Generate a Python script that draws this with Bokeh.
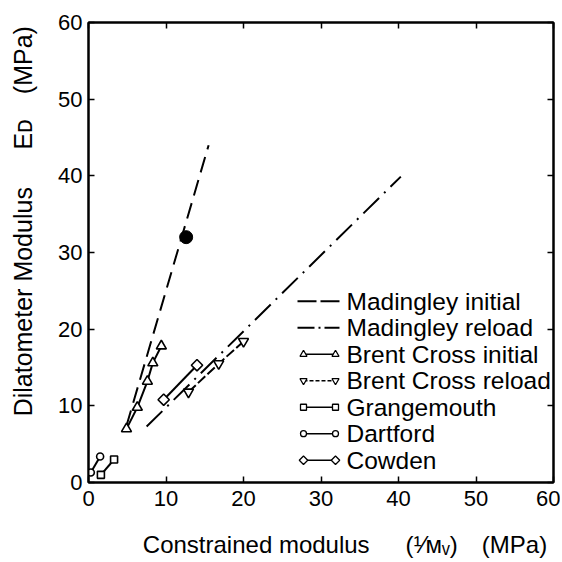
import math
from bokeh.plotting import figure
from bokeh.models import Range1d, LinearAxis, FixedTicker
from bokeh.embed import file_html
from bokeh.resources import INLINE
from bokeh.core.properties import value

# ---------------- data ----------------
mad_init_x = [4.9, 15.5]
mad_init_y = [7.4, 44.0]
mad_init_pt_x = [12.6]
mad_init_pt_y = [32.0]
mad_rel_x = [7.5, 40.3]
mad_rel_y = [7.3, 39.9]
bc_init_x = [4.9, 6.3, 7.6, 8.3, 9.4]
bc_init_y = [7.0, 9.8, 13.2, 15.6, 17.8]
bc_rel_x = [12.9, 16.8, 20.0]
bc_rel_y = [11.8, 15.5, 18.4]
gra_x = [1.6, 3.3]
gra_y = [1.0, 3.0]
dar_x = [0.3, 1.5]
dar_y = [1.3, 3.4]
cow_x = [9.7, 14.0]
cow_y = [10.8, 15.3]
x_ticks = [0, 10, 20, 30, 40, 50, 60]
y_ticks = [0, 10, 20, 30, 40, 50, 60]
legend_labels = ["Madingley initial", "Madingley reload", "Brent Cross initial",
                 "Brent Cross reload", "Grangemouth", "Dartford", "Cowden"]
EM, EN = "\u2003", "\u2002"
x_title = EM + EM + "Constrained modulus" + EM + EN + "(\u00b9\u2044\u1d0d\u1d65)" + EM + "(MPa)"
y_title = EM + EM + EN + "Dilatometer Modulus" + EM + EN + "E\u1d05" + EM + "(MPa)"

FONT = "Liberation Sans"

# frame geometry in picture pixels, used only to place the hand-made legend
F_L, F_R, F_T, F_B = 88, 553, 22, 484
def X(px):
    return (px - F_L) / (F_R - F_L) * 60.0
def Y(py):
    return (F_B - py) / (F_B - F_T) * 60.0

p = figure(width=560, height=560, x_range=Range1d(0, 60), y_range=Range1d(0, 60),
           output_backend="svg", toolbar_location=None,
           min_border_left=88, min_border_right=7, min_border_top=22, min_border_bottom=76)
p.xgrid.visible = False
p.ygrid.visible = False
p.outline_line_color = "black"
p.outline_line_width = 2
p.background_fill_color = "white"
p.border_fill_color = "white"

for ax in (p.xaxis[0], p.yaxis[0]):
    ax.major_tick_in = 6
    ax.major_tick_out = 0
    ax.minor_tick_line_color = None
    ax.axis_line_width = 2
    ax.major_tick_line_width = 1.5
    ax.major_label_text_font = FONT
    ax.major_label_text_font_size = "22px"
    ax.major_label_text_color = "black"
    ax.axis_label_text_font = FONT
    ax.axis_label_text_font_style = "normal"
    ax.axis_label_text_color = "black"
p.xaxis[0].ticker = FixedTicker(ticks=x_ticks)
p.yaxis[0].ticker = FixedTicker(ticks=y_ticks)
p.xaxis[0].major_label_standoff = 8
p.yaxis[0].major_label_standoff = 6
p.xaxis[0].axis_label = x_title
p.xaxis[0].axis_label_text_font_size = "24px"
p.xaxis[0].axis_label_standoff = 22
p.yaxis[0].axis_label = y_title
p.yaxis[0].axis_label_text_font_size = "25px"
p.yaxis[0].axis_label_standoff = 18

top = LinearAxis(ticker=FixedTicker(ticks=x_ticks), major_tick_in=6, major_tick_out=0,
                 minor_tick_line_color=None, axis_line_width=2, major_tick_line_width=1.5,
                 major_label_text_font_size="0px", major_label_text_color=None,
                 major_label_standoff=0)
right = LinearAxis(ticker=FixedTicker(ticks=y_ticks), major_tick_in=6, major_tick_out=0,
                   minor_tick_line_color=None, axis_line_width=2, major_tick_line_width=1.5,
                   major_label_text_font_size="0px", major_label_text_color=None,
                   major_label_standoff=0)
p.add_layout(top, "above")
p.add_layout(right, "right")

# ---------------- data series ----------------
p.line(mad_init_x, mad_init_y, line_color="black", line_width=2, line_dash="16 8")
p.scatter(mad_init_pt_x, mad_init_pt_y, marker="circle", size=13, fill_color="black", line_color="black")
p.line(mad_rel_x, mad_rel_y, line_color="black", line_width=2, line_dash="22 7 2 7")

p.line(bc_init_x, bc_init_y, line_color="black", line_width=2)
p.scatter(bc_init_x, bc_init_y, marker="triangle", size=10, fill_color="white", line_color="black", line_width=1.6)

p.line(bc_rel_x, bc_rel_y, line_color="black", line_width=2, line_dash="10 3")
p.scatter(bc_rel_x, bc_rel_y, marker="inverted_triangle", size=10, fill_color="white", line_color="black", line_width=1.6)

p.line(gra_x, gra_y, line_color="black", line_width=2)
p.scatter(gra_x, gra_y, marker="square", size=7, fill_color="white", line_color="black", line_width=1.6)

p.line(dar_x, dar_y, line_color="black", line_width=2)
p.scatter(dar_x, dar_y, marker="circle", size=7, fill_color="white", line_color="black", line_width=1.6)

p.line(cow_x, cow_y, line_color="black", line_width=2)
p.scatter(cow_x, cow_y, marker="square", angle=math.pi / 4, size=8, fill_color="white", line_color="black", line_width=1.6)

# ---------------- custom legend ----------------
rows = [302 + 26.6 * i for i in range(len(legend_labels))]
p.line([X(297), X(339)], [Y(rows[0])] * 2, line_color="black", line_width=2, line_dash="19 4")
p.line([X(297), X(339)], [Y(rows[1])] * 2, line_color="black", line_width=2, line_dash="17 4 2 4")
markers = ["triangle", "inverted_triangle", "square", "circle", "square"]
angles = [0, 0, 0, 0, math.pi / 4]
msizes = [7, 7, 6, 6, 6]
dashes = ["solid", "4 2", "solid", "solid", "solid"]
for k, (m, a, s, d) in enumerate(zip(markers, angles, msizes, dashes)):
    yy = Y(rows[k + 2])
    p.line([X(303), X(335)], [yy, yy], line_color="black", line_width=1.6, line_dash=d)
    p.scatter([X(303), X(335)], [yy, yy], marker=m, angle=a, size=s, fill_color="white",
              line_color="black", line_width=1.3)
p.text(x=[X(346)] * len(legend_labels), y=[Y(r) for r in rows], text=legend_labels,
       text_font=value(FONT), text_font_size="24.5px", text_baseline="middle",
       text_align="left", text_color="black")

open("out.html", "w").write(file_html(p, INLINE))
